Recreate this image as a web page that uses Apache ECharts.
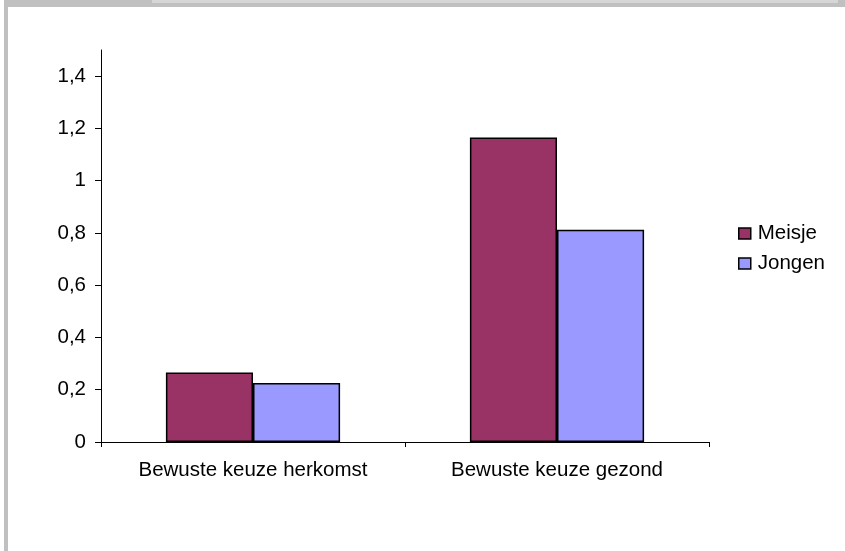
<!DOCTYPE html>
<html>
<head>
<meta charset="utf-8">
<script src="https://cdn.jsdelivr.net/npm/echarts@6/dist/echarts.min.js"></script>
<style>
  html, body { margin: 0; padding: 0; background: #ffffff; }
  #chart { width: 845px; height: 551px; }
</style>
</head>
<body>
<div id="chart"></div>
<script>
// Categories and series values
const categories = ['Bewuste keuze herkomst', 'Bewuste keuze gezond'];
const meisje = [0.266, 1.165];
const jongen = [0.226, 0.812];
const yTicks = [0, 0.2, 0.4, 0.6, 0.8, 1, 1.2, 1.4];

const FONT = 'Liberation Sans, Arial, sans-serif';
const FS = 20.5;
const chart = echarts.init(document.getElementById('chart'), null, { renderer: 'canvas' });

const fmt = v => String(Math.round(v * 10) / 10).replace('.', ',');

chart.setOption({
  animation: false,
  backgroundColor: '#ffffff',
  textStyle: { fontFamily: FONT },
  graphic: [
    // window frame strips
    { type: 'rect', shape: { x: 4, y: 0, width: 841, height: 7 }, style: { fill: '#c0c0c0' }, silent: true },
    { type: 'rect', shape: { x: 152, y: 0, width: 686, height: 3 }, style: { fill: '#d6d6d6' }, silent: true },
    { type: 'rect', shape: { x: 4, y: 0, width: 4, height: 551 }, style: { fill: '#c0c0c0' }, silent: true }
  ],
  legend: {
    orient: 'vertical',
    left: 733,
    top: 218,
    itemWidth: 12,
    itemHeight: 11,
    itemGap: 9,
    icon: 'rect',
    textStyle: { fontFamily: FONT, fontSize: FS, color: '#000000', padding: [0, 0, 0, 2] },
    itemStyle: { borderColor: '#000000', borderWidth: 1.5 },
    data: ['Meisje', 'Jongen']
  },
  grid: { left: 101, right: 136, top: 50, bottom: 109, containLabel: false },
  xAxis: {
    type: 'category',
    data: categories,
    axisLine: { lineStyle: { color: '#000000', width: 1 } },
    axisTick: { show: true, length: 5, lineStyle: { color: '#000000' } },
    axisLabel: { fontFamily: FONT, fontSize: FS, color: '#000000', margin: 18 }
  },
  yAxis: {
    type: 'value',
    min: 0,
    max: 1.5,
    axisLine: { show: true, lineStyle: { color: '#000000', width: 1 } },
    axisTick: { show: true, length: 6, customValues: yTicks, lineStyle: { color: '#000000' } },
    axisLabel: { fontFamily: FONT, fontSize: FS, color: '#000000', margin: 15, customValues: yTicks, formatter: fmt },
    splitLine: { show: false }
  },
  series: [
    {
      name: 'Meisje',
      type: 'bar',
      data: meisje,
      barGap: '0%',
      barCategoryGap: '42.7%',
      itemStyle: { color: '#993366', borderColor: '#000000', borderWidth: 1.5 }
    },
    {
      name: 'Jongen',
      type: 'bar',
      data: jongen,
      itemStyle: { color: '#9999ff', borderColor: '#000000', borderWidth: 1.5 }
    }
  ]
});
</script>
</body>
</html>
